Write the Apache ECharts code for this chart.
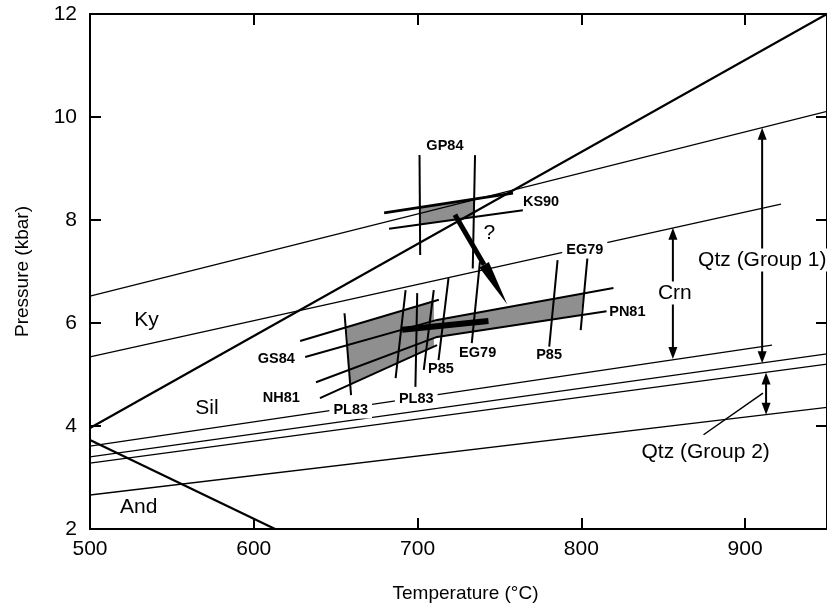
<!DOCTYPE html>
<html><head><meta charset="utf-8">
<script src="https://cdn.jsdelivr.net/npm/echarts@6/dist/echarts.min.js"></script>
<style>html,body{margin:0;padding:0;background:#fff}#c{width:827px;height:609px}</style>
</head><body><div id="c"></div>
<script>
// ---- reaction / reference lines (T in °C, P in kbar)
const kySil = [[500,3.96],[950,12.0]];
const silAnd = [[500,3.73],[613,2.0]];
const qtzUpper = [[500,6.52],[950,10.11]];
const crnUpper = [[500,5.34],[921.9,8.31]];
const crnLower = [[500,3.61],[916.4,5.57]];
const qtzMid1 = [[500,3.40],[950,5.40]];
const qtzMid2 = [[500,3.28],[950,5.20]];
const qtzLow = [[500,2.66],[950,4.36]];
// ---- thermobarometry results
const ks90a = [[679.6,8.14],[758.3,8.52]];
const ks90b = [[682.6,7.83],[764.3,8.19]];
const gp84a = [[701.2,9.26],[701.6,7.32]];
const gp84b = [[735.1,9.26],[733.7,7.06]];
const gs84a = [[628.3,5.65],[713,6.45]];
const gs84b = [[631.4,5.34],[711.9,6.06],[819.6,6.68]];
const nh81a = [[638.0,4.85],[711.9,5.73],[815.4,6.23]];
const nh81b = [[640.4,4.54],[711.9,5.57]];
const isopleths = [
  [[655.4,6.19],[659.4,4.60]],
  [[692.7,6.64],[686.6,4.93]],
  [[699.8,6.58],[698.7,4.76]],
  [[709.9,6.64],[703.8,5.09]],
  [[718.9,6.87],[712.8,5.28]],
  [[738.1,7.19],[733.1,5.61]],
  [[785.5,7.22],[780.4,5.54]],
  [[803.7,7.26],[799.6,5.86]]
];
const pathBar = [[690.6,5.87],[743.3,6.04]];
const bigArrow = [[722.8,8.10,754.8,6.36]];
const bandPoly = [[656.8,5.92],[710,6.42],[710,6.05],[801.5,6.575],[799.6,6.155],[710,5.72],[710,5.55],[658.6,4.81]];
const ksPoly = [[701.8,8.25],[735.1,8.40],[735.1,8.06],[701.8,7.91]];
const polygons = [bandPoly, ksPoly];
// ---- double arrows: [T, P top, P bottom]
const doubleArrows = [[855.9,7.85,5.30],[910.4,9.79,5.22],[912.8,5.04,4.22]];
const leader = [[874.6,3.83],[910.9,4.64]];
// ---- labels: [text, T, P]
const smallLabels = [
  ['GP84',716.7,9.437],['KS90',775.4,8.35],['PN81',828.1,6.214],
  ['GS84',613.8,5.301],['NH81',616.8,4.544],['P85',714.3,5.107],
  ['EG79',736.7,5.417],['P85',780.3,5.379]
];
const knockoutSmall = [['EG79',802.1,7.417],['PL83',659.2,4.311],['PL83',699.2,4.524]];
const bigLabels = [
  ['Ky',534.5,6.058],['Sil',571.4,4.35],['And',529.7,2.427],
  ['?',743.9,7.75],['Qtz (Group 2)',875.9,3.495]
];
const knockoutBig = [['Crn',857.1,6.583],['Qtz (Group 1)',910.5,7.223]];

const FONT = '"Liberation Sans", Arial, Helvetica, sans-serif';

function lineSeries(d, w, z) {
  return {type:'line', data:d, symbol:'none', silent:true, animation:false,
    lineStyle:{color:'#000', width:w}, z:z || 3};
}
function labelSeries(list, font, knock) {
  return {type:'custom', silent:true, animation:false, z:10,
    data:list.map(l => [l[1], l[2]]), encode:{x:0, y:1},
    renderItem:function(params, api){
      const p = api.coord([api.value(0), api.value(1)]);
      const style = {text:list[params.dataIndex][0], x:p[0], y:p[1], fill:'#000',
        font:font, align:'center', verticalAlign:'middle'};
      if (knock) { style.backgroundColor = '#fff'; style.padding = [1,4]; }
      return {type:'text', style:style};
    }};
}

const chart = echarts.init(document.getElementById('c'), null, {renderer:'canvas'});
const axisCommon = {
  type:'value', splitLine:{show:false},
  axisLine:{show:true, onZero:false, lineStyle:{color:'#000', width:2}},
  axisTick:{show:true, inside:true, length:11, lineStyle:{color:'#000', width:2}}
};
const series = [];
series.push({type:'custom', silent:true, animation:false, z:1,
  data:polygons.map((p,i) => [p[0][0], p[0][1], i]), encode:{x:0, y:1},
  renderItem:function(params, api){
    const pts = polygons[params.dataIndex].map(v => api.coord(v));
    return {type:'polygon', shape:{points:pts}, style:{fill:'#8f8f8f', stroke:null}};
  }});
[qtzUpper, crnUpper, crnLower, qtzMid1, qtzMid2, qtzLow].forEach(d => series.push(lineSeries(d, 1.3, 2)));
[kySil, silAnd].forEach(d => series.push(lineSeries(d, 2.2)));
[ks90b, gp84a, gp84b, gs84a, gs84b, nh81a, nh81b].concat(isopleths).forEach(d => series.push(lineSeries(d, 2)));
series.push(lineSeries(ks90a, 2.8));
series.push(lineSeries(leader, 1.5));
series.push(lineSeries(pathBar, 6, 4));
series.push({type:'custom', silent:true, animation:false, z:5,
  data:bigArrow, encode:{x:0, y:1},
  renderItem:function(params, api){
    const a = api.coord([api.value(0), api.value(1)]);
    const b = api.coord([api.value(2), api.value(3)]);
    const dx = b[0]-a[0], dy = b[1]-a[1], len = Math.hypot(dx, dy);
    const ux = dx/len, uy = dy/len, nx = -uy, ny = ux, H = 46, W = 5.5;
    const bx = b[0]-ux*H, by = b[1]-uy*H;
    return {type:'group', children:[
      {type:'line', shape:{x1:a[0], y1:a[1], x2:bx, y2:by}, style:{stroke:'#000', lineWidth:5}},
      {type:'polygon', shape:{points:[[b[0],b[1]],[bx+nx*W,by+ny*W],[bx-nx*W,by-ny*W]]}, style:{fill:'#000'}}
    ]};
  }});
series.push({type:'custom', silent:true, animation:false, z:5,
  data:doubleArrows, encode:{x:0, y:1},
  renderItem:function(params, api){
    const x = api.value(0);
    const t = api.coord([x, api.value(1)]), b = api.coord([x, api.value(2)]);
    const L = 12, W = 4.5;
    return {type:'group', children:[
      {type:'line', shape:{x1:t[0], y1:t[1]+L-1, x2:b[0], y2:b[1]-L+1}, style:{stroke:'#000', lineWidth:2}},
      {type:'polygon', shape:{points:[[t[0],t[1]],[t[0]-W,t[1]+L],[t[0]+W,t[1]+L]]}, style:{fill:'#000'}},
      {type:'polygon', shape:{points:[[b[0],b[1]],[b[0]-W,b[1]-L],[b[0]+W,b[1]-L]]}, style:{fill:'#000'}}
    ]};
  }});
series.push(labelSeries(smallLabels, 'bold 14.5px ' + FONT, false));
series.push(labelSeries(knockoutSmall, 'bold 14.5px ' + FONT, true));
series.push(labelSeries(bigLabels, '21px ' + FONT, false));
series.push(labelSeries(knockoutBig, '21px ' + FONT, true));

chart.setOption({
  animation:false,
  backgroundColor:'#fff',
  grid:{left:90, top:14, right:-7, bottom:80, containLabel:false},
  xAxis:[
    Object.assign({}, axisCommon, {position:'bottom', min:500, max:950, interval:100,
      axisLabel:{color:'#000', fontSize:21, margin:10, fontFamily:FONT, showMaxLabel:false},
      name:'Temperature (°C)', nameLocation:'middle', nameGap:55,
      nameTextStyle:{color:'#000', fontSize:19, fontFamily:FONT, padding:[0,0,0,14]}}),
    Object.assign({}, axisCommon, {position:'top', min:500, max:950, interval:100, axisLabel:{show:false}})
  ],
  yAxis:[
    Object.assign({}, axisCommon, {position:'left', min:2, max:12, interval:2,
      axisLabel:{color:'#000', fontSize:21, margin:13, fontFamily:FONT},
      name:'Pressure (kbar)', nameLocation:'middle', nameGap:58,
      nameTextStyle:{color:'#000', fontSize:19, fontFamily:FONT}}),
    Object.assign({}, axisCommon, {position:'right', min:2, max:12, interval:2, axisLabel:{show:false}})
  ],
  series:series
});
</script></body></html>
